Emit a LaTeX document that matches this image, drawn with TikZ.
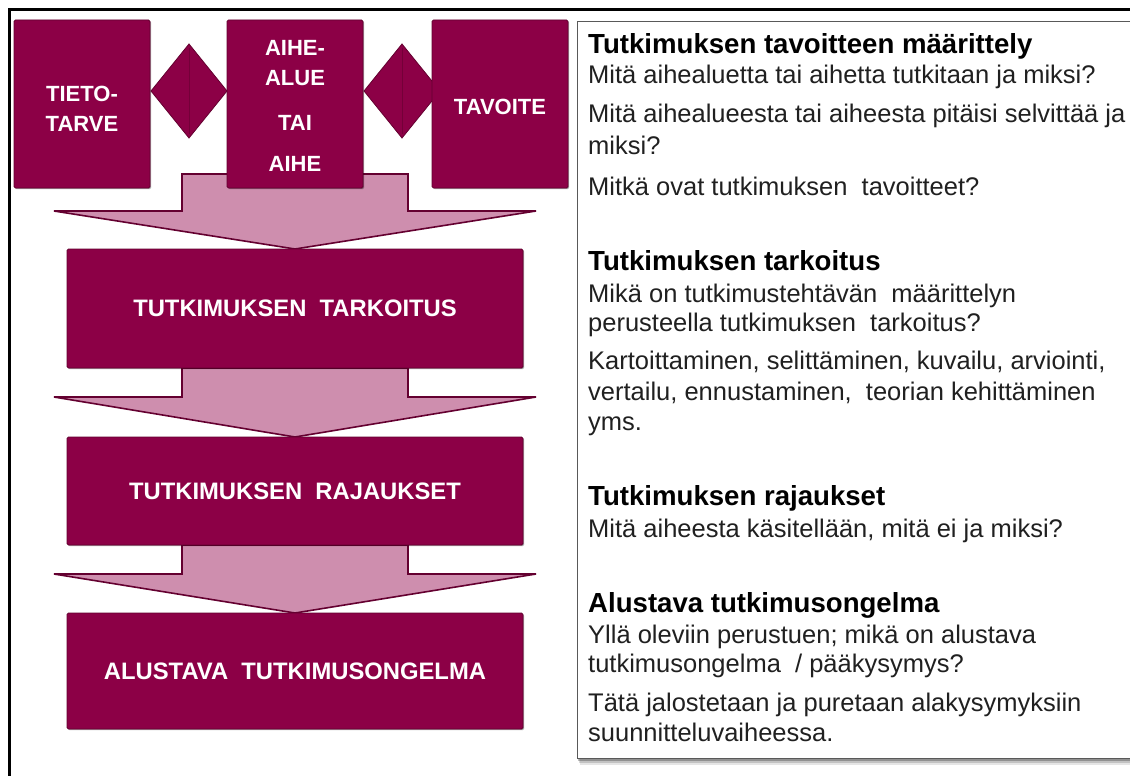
\documentclass[tikz,border=0pt]{standalone}
\usepackage{fontspec}
\setmainfont{Liberation Sans}
\usetikzlibrary{calc,shadows}
\definecolor{maroon}{RGB}{140,0,70}
\definecolor{maroonedge}{RGB}{100,0,48}
\definecolor{mauve}{RGB}{206,142,174}
\definecolor{txt}{RGB}{32,32,32}
\begin{document}
\begin{tikzpicture}[x=1pt,y=-1pt,
  mbox/.style={draw=maroonedge, line width=0.8pt, fill=maroon, text=white,
    font=\bfseries\fontsize{22}{30}\selectfont, align=center, inner sep=0pt,
    rounded corners=1.5pt,
    drop shadow={shadow xshift=1.2pt, shadow yshift=-1.2pt, opacity=0.35, fill=black}},
  rowbox/.style={mbox, minimum width=456pt, font=\bfseries\fontsize{23.8}{28}\selectfont},
  topbox/.style={mbox, minimum width=136pt, minimum height=168pt},
  boxtext/.style={inner sep=0pt, text=white, align=center,
    font=\bfseries\fontsize{22}{30}\selectfont},
  fatarr/.style={draw=maroonedge, line width=1.6pt, fill=mauve, line join=miter},
  gem/.style={draw=maroonedge, line width=0.8pt, fill=maroon},
  body/.style={anchor=base west, inner sep=0pt, text=txt, font=\fontsize{25.5}{30}\selectfont},
  head/.style={anchor=base west, inner sep=0pt, text=black, font=\bfseries\fontsize{27.6}{32}\selectfont},
  frameline/.style={line width=3pt, black}
]
\useasboundingbox (0,0) rectangle (1130,776);
\fill[white] (0,0) rectangle (1130,776);

% outer frame (top and left)
\coordinate (fTL) at (9.5,9.5);
\coordinate (fTR) at (1131,9.5);
\coordinate (fBL) at (9.5,777);
\draw[frameline] (fTR) -- (fTL) -- (fBL);

% right text panel with shadow
\fill[black, opacity=0.10] (580,758) rectangle (1131,765);
\fill[black, opacity=0.15] (579,758) rectangle (1131,762.5);
\fill[black, opacity=0.25] (578,758) rectangle (1131,760.5);
\node[draw=black!65, line width=0.9pt, fill=white, inner sep=0pt, anchor=north west,
      minimum width=560pt, minimum height=737pt] (panel) at (577,21) {};

% fat arrows (drawn first, boxes on top)
\draw[fatarr] (182,174) -- (182,211) -- (54,211) -- (295,249) -- (536,211) -- (408,211) -- (408,174) -- cycle;
\draw[fatarr] (182,368) -- (182,397) -- (54,397) -- (295,437) -- (536,397) -- (408,397) -- (408,368) -- cycle;
\draw[fatarr] (182,545) -- (182,574) -- (54,574) -- (295,613) -- (536,574) -- (408,574) -- (408,545) -- cycle;

% diamonds
\draw[gem] (189,44) -- (227,91) -- (189,138) -- (151,91) -- cycle;
\draw[maroonedge, line width=0.5pt, opacity=0.6] (189,48) -- (189,134);
\draw[gem] (402,44) -- (440,91) -- (402,138) -- (364,91) -- cycle;
\draw[maroonedge, line width=0.5pt, opacity=0.6] (402,48) -- (402,134);

% top boxes
\node[topbox] (tieto) at (82,104) {};
\node[boxtext] (tietoT) at (82,109) {TIETO-\\TARVE};
\node[topbox] (aihe) at (295,104) {};
\node[boxtext] (aiheT) at (295,106) {AIHE-\\ALUE\\[15pt]TAI\\[11pt]AIHE};
\node[topbox] (tavoite) at (500,104) {};
\node[boxtext] (tavoiteT) at (500,107) {TAVOITE};

% row boxes
\node[rowbox, minimum height=119pt] (tark) at (295,308.5) {TUTKIMUKSEN\ \ TARKOITUS};
\node[rowbox, minimum height=108pt] (raj) at (295,491) {TUTKIMUKSEN\ \ RAJAUKSET};
\node[rowbox, minimum height=116pt] (alu) at (295,671) {ALUSTAVA\ \ TUTKIMUSONGELMA};

% panel texts
\node[head] (h1) at (588,54) {Tutkimuksen tavoitteen määrittely};
\node[body] (t11) at (588,84) {Mitä aihealuetta tai aihetta tutkitaan ja miksi?};
\node[body] (t12) at (588,122) {Mitä aihealueesta tai aiheesta pitäisi selvittää ja};
\node[body] (t13) at (588,154) {miksi?};
\node[body] (t14) at (588,195) {Mitkä ovat tutkimuksen\ \ tavoitteet?};

\node[head] (h2) at (588,270) {Tutkimuksen tarkoitus};
\node[body] (t21) at (588,302) {Mikä on tutkimustehtävän\ \ määrittelyn};
\node[body] (t22) at (588,331) {perusteella tutkimuksen\ \ tarkoitus?};
\node[body] (t23) at (588,369) {Kartoittaminen, selittäminen, kuvailu, arviointi,};
\node[body] (t24) at (588,400) {vertailu, ennustaminen,\ \ teorian kehittäminen};
\node[body] (t25) at (588,430) {yms.};

\node[head] (h3) at (588,505) {Tutkimuksen rajaukset};
\node[body] (t31) at (588,537) {Mitä aiheesta käsitellään, mitä ei ja miksi?};

\node[head] (h4) at (588,612) {Alustava tutkimusongelma};
\node[body] (t41) at (588,643) {Yllä oleviin perustuen; mikä on alustava};
\node[body] (t42) at (588,672) {tutkimusongelma\ \ / pääkysymys?};
\node[body] (t43) at (588,711) {Tätä jalostetaan ja puretaan alakysymyksiin};
\node[body] (t44) at (588,741) {suunnitteluvaiheessa.};
\end{tikzpicture}
\end{document}
